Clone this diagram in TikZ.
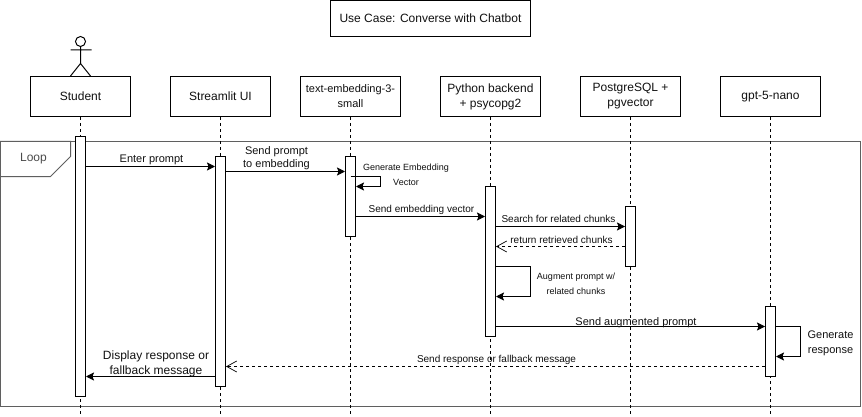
\documentclass[tikz,border=0pt]{standalone}
\usepackage{fontspec}
\setmainfont{Liberation Sans}
\usetikzlibrary{arrows.meta}
\definecolor{framegray}{HTML}{5F5F5F}
\definecolor{txt}{HTML}{111111}
\tikzset{
  x=1pt,y=-1pt,
  box/.style={draw=black,line width=1pt,fill=white,minimum width=100pt,minimum height=40pt,inner sep=1pt,align=center,text=txt,font=\fontsize{12}{15}\selectfont},
  bar/.style={draw=black,line width=1pt,fill=white,minimum width=10pt,inner sep=0pt},
  life/.style={line width=1pt,dash pattern=on 3pt off 3pt},
  msg/.style={line width=1pt,-{Stealth[length=8pt,width=8pt,inset=1.5pt]}},
  ret/.style={line width=1pt,dash pattern=on 3pt off 3pt,-{Straight Barb[length=10pt,width=11pt,line width=.7pt]}},
  lab/.style={align=center,inner sep=0pt,text=txt,font=\fontsize{11}{13}\selectfont},
  labs/.style={align=center,inner sep=0pt,text=txt,font=\fontsize{10}{15}\selectfont},
  labt/.style={align=center,inner sep=0pt,text=txt,font=\fontsize{9}{15}\selectfont},
  labb/.style={align=center,inner sep=0pt,text=txt,font=\fontsize{12}{15}\selectfont},
}
\begin{document}
\begin{tikzpicture}
\useasboundingbox (-0.5,-0.5) rectangle (861.5,416.5);
\fill[white] (-0.5,-0.5) rectangle (861.5,416.5);
% frame
\node[draw=framegray,line width=1pt,minimum width=860pt,minimum height=265pt,inner sep=0pt] (frame) at (430,273.5) {};
\draw[draw=framegray,line width=1pt,fill=white] (0,141) -- (70,141) -- (70,156) -- (50,176) -- (0,176) -- cycle;
\node[text=framegray!80!black,font=\fontsize{12}{15}\selectfont,inner sep=0pt] (looplab) at (33,158.5) {Loop};
% title
\node[box,minimum width=200pt,minimum height=36pt] (title) at (430,18) {Use Case: Converse with Chatbot};
% heads
\node[box] (h1) at (80,96) {Student};
\node[box] (h2) at (220,96) {Streamlit UI};
\node[box,font=\fontsize{11}{15}\selectfont] (h3) at (350,96) {text-embedding-3-\\small};
\node[box] (h4) at (490,96) {Python backend\\+ psycopg2};
\node[box] (h5) at (630,96) {PostgreSQL +\\pgvector};
\node[box] (h6) at (770,96) {gpt-5-nano};
% lifeline ends
\coordinate (e1) at (80,413);
\coordinate (e2) at (220,413);
\coordinate (e3) at (350,413);
\coordinate (e4) at (490,413);
\coordinate (e5) at (630,413);
\coordinate (e6) at (770,413);
\foreach \i in {1,...,6} \draw[life] (h\i.south) -- (e\i);
% actor
\node[draw=black,line width=1pt,circle,minimum size=10pt,inner sep=0pt] (head) at (80,41) {};
\coordinate (hip) at (80,63);
\coordinate (armL) at (70,49.5);
\coordinate (armR) at (91,49.5);
\draw[line width=1pt] (head.south) -- (hip) (armL) -- (armR) (hip) -- (h1.north -| 70,0) (hip) -- (h1.north -| 90,0);
% activations
\node[bar,minimum height=260pt] (a1) at (80,266) {};
\node[bar,minimum height=230pt] (a2) at (220,271) {};
\node[bar,minimum height=80pt] (a3) at (350,196) {};
\node[bar,minimum height=150pt] (a4) at (490,261) {};
\node[bar,minimum height=60pt] (a5) at (630,236) {};
\node[bar,minimum height=70pt] (a6) at (770,341) {};
% messages
\draw[msg] (a1.east |- 0,166) -- (a2.west |- 0,166);
\node[lab] (m1) at (151,159) {Enter prompt};
\draw[msg] (a2.east |- 0,171) -- (a3.west |- 0,171);
\draw[line width=1pt] (a2.east |- 0,171) ++(-.5,0) -- ++(0,16);
\node[lab] (m2) at (276,157.5) {Send prompt\\to embedding};
\draw[msg] (a3.center |- 0,176) -- (380,176) -- (380,186) -- (a3.east |- 0,186);
\node[labt] (m3) at (405.5,174) {Generate Embedding\\Vector};
\draw[msg] (a3.east |- 0,216) -- (a4.west |- 0,216);
\node[labs] (m4) at (421,209.5) {Send embedding vector};
\draw[msg] (a4.east |- 0,226) -- (a5.west |- 0,226);
\node[labs] (m5) at (558,218.5) {Search for related chunks};
\draw[ret] (a5.west |- 0,246) -- (a4.east |- 0,246);
\node[labs] (m6) at (561,239) {return retrieved chunks};
\draw[msg] (a4.east |- 0,266) -- (530,266) -- (530,296) -- (a4.east |- 0,296);
\node[labt] (m7) at (575.5,283.5) {Augment prompt w/\\related chunks};
\draw[msg] (a4.east |- 0,326) -- (a6.west |- 0,326);
\node[lab] (m8) at (635.5,322.5) {Send augmented prompt};
\draw[msg] (a6.east |- 0,326) -- (800,326) -- (800,356) -- (a6.east |- 0,356);
\node[labb,font=\fontsize{11}{15}\selectfont] (m9) at (830,343) {Generate\\response};
\draw[ret] (a6.west |- 0,366) -- (a2.east |- 0,366);
\node[labs] (m10) at (496,359) {Send response or fallback message};
\draw[msg] (a2.west |- 0,376) -- (a1.east |- 0,376);
\node[labb] (m11) at (155.5,363) {Display response or\\fallback message};
\end{tikzpicture}
\end{document}
